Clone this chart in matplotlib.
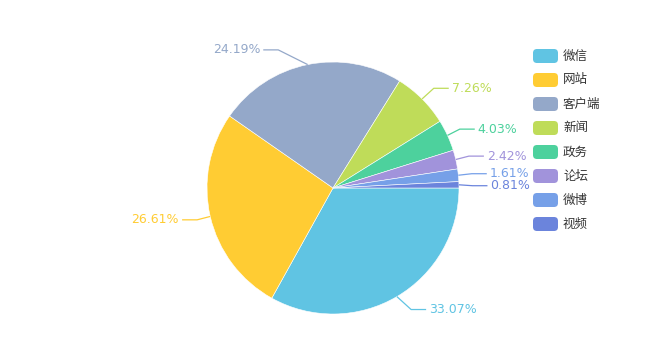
import numpy as np
import matplotlib
matplotlib.use("Agg")
import matplotlib.pyplot as plt
from matplotlib.patches import FancyBboxPatch

plt.rcParams['font.family'] = ['Noto Sans CJK SC', 'DejaVu Sans']

categories = ['微信', '网站', '客户端', '新闻', '政务', '论坛', '微博', '视频']
values = [33.07, 26.61, 24.19, 7.26, 4.03, 2.42, 1.61, 0.81]
colors = ['#60c4e3', '#ffcc33', '#94a8c9', '#bfdc59', '#4dd19d', '#a193db', '#76a0e8', '#6b84dc']

W, H = 650, 360
fig = plt.figure(figsize=(W / 100, H / 100), dpi=100)
ax = fig.add_axes([0, 0, 1, 1])

cx, cy, R = 333, 188, 126
wedges, _ = ax.pie(values, colors=colors, startangle=0, counterclock=True,
                   center=(cx, cy), radius=R, frame=True,
                   wedgeprops=dict(edgecolor='white', linewidth=0.4))
ax.set_xlim(0, W)
ax.set_ylim(H, 0)
ax.set_aspect('equal')
ax.axis('off')

# labels with leader lines (y axis down -> angles clockwise on screen)
total = sum(values)
cum = 0
label_info = []
for v, c in zip(values, colors):
    mid = (cum + v / 2) / total * 2 * np.pi
    cum += v
    ca, sa = np.cos(mid), np.sin(mid)
    ex, ey = cx + R * ca, cy + R * sa
    ey2 = cy + (R + 15) * sa
    side = 1 if ca >= 0 else -1
    dy = ey2 - ey
    dxr = 15 * ca
    k = 2.0 if abs(sa) > 0.95 else 1.1
    ex2 = ex + side * max(abs(dxr) * 0.9, abs(dy) * k)
    label_info.append([v, c, ex, ey, ex2, ey2, side])

# simple overlap avoidance on right side
right = [k for k, li in enumerate(label_info) if li[6] == 1 and cy - 80 < li[5] < cy + 40]
right_sorted = sorted(right, key=lambda k: label_info[k][5])
for a, b in zip(right_sorted, right_sorted[1:]):
    if label_info[b][5] - label_info[a][5] < 12:
        label_info[b][5] = label_info[a][5] + 12

for v, c, ex, ey, ex2, ey2, side in label_info:
    ex3 = ex2 + side * 15
    ax.plot([ex, ex2, ex3], [ey, ey2, ey2], color=c, lw=0.9, solid_capstyle='butt')
    ax.text(ex3 + side * 3, ey2, f'{v:.2f}%', color=c, fontsize=9,
            family=['DejaVu Sans'],
            ha='left' if side > 0 else 'right', va='center')

# legend
for i, (name, c) in enumerate(zip(categories, colors)):
    yc = 56 + 24 * i
    box = FancyBboxPatch((533, yc - 7), 25, 14, boxstyle='round,pad=0,rounding_size=4',
                         facecolor=c, edgecolor='none')
    ax.add_patch(box)
    ax.text(563, yc, name, color='#333333', fontsize=9, ha='left', va='center')

fig.savefig('out.png', dpi=100, facecolor='white')
